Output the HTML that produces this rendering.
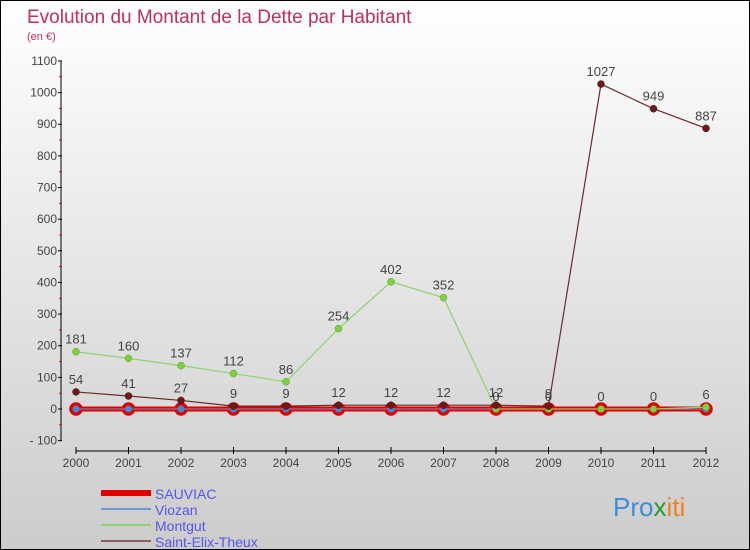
<!DOCTYPE html>
<html><head><meta charset="utf-8"><style>
body{margin:0}
#c{width:750px;height:550px;position:relative;background:linear-gradient(#fff,#ccc);font-family:"Liberation Sans",sans-serif;overflow:hidden;border:1px solid #000;box-sizing:border-box}
</style></head><body>
<div id="c">
<svg id="s" width="750" height="550" xmlns="http://www.w3.org/2000/svg">
<text x="26" y="22" font-size="19" fill="#c0305a">Evolution du Montant de la Dette par Habitant</text>
<text x="26" y="39" font-size="11" fill="#c0305a">(en €)</text>
<text x="612" y="515" font-size="26" fill="#3a8fd8">Pro<tspan fill="#2a9a2a">x</tspan><tspan fill="#f08020">iti</tspan></text>
</svg>
</div>
<script>
const years=[2000,2001,2002,2003,2004,2005,2006,2007,2008,2009,2010,2011,2012];
const yTicks=[-100,0,100,200,300,400,500,600,700,800,900,1000,1100];
const sauviac=[0,0,0,0,0,0,0,0,0,0,0,0,0];
const viozan=[0,0,0,0,0,0,0,0,0,0,0,0,0];
const montgut=[181,160,137,112,86,254,402,352,0,0,0,0,6];
const saintElix=[54,41,27,9,9,12,12,12,12,9,1027,949,887];
const seriesNames=["SAUVIAC","Viozan","Montgut","Saint-Elix-Theux"];
const NS="http://www.w3.org/2000/svg";
const s=document.getElementById('s');
const X=i=>75+i*52.5;
const Y=v=>408-v*0.3164;
function el(t,a,p){const e=document.createElementNS(NS,t);for(const k in a)e.setAttribute(k,a[k]);(p||s).appendChild(e);return e;}
let ax=el('line',{x1:60,y1:Y(1100),x2:60,y2:Y(-100),stroke:'#000'});


let xa=el('line',{x1:X(0),y1:450,x2:X(12),y2:450,stroke:'#000'});


yTicks.forEach(v=>{
 el('line',{x1:57,y1:Y(v),x2:61,y2:Y(v),stroke:'#000'});
 if(v<1100) el('line',{x1:58,y1:Y(v+50),x2:61,y2:Y(v+50),stroke:'#f00'});
 const t=el('text',{x:56,y:Y(v)+4,'font-size':12,fill:'#444','text-anchor':'end'});
 t.textContent=v==-100?'- 100':v;
 
 
});
years.forEach((y,i)=>{
 el('line',{x1:X(i),y1:446,x2:X(i),y2:453,stroke:'#000'});
 const t=el('text',{x:X(i),y:466,'font-size':12,fill:'#444','text-anchor':'middle'});
 t.textContent=y;
 
 
});
function series(data,color,w,r,fill,stroke,sw,name,labels){
 const g=el('g',{});
 
 
 el('polyline',{points:data.map((v,i)=>X(i)+','+Y(v)).join(' '),fill:'none',stroke:color,'stroke-width':w},g);
 data.forEach((v,i)=>{
  const c=el('circle',{cx:X(i),cy:Y(v),r:r,fill:fill,stroke:stroke,'stroke-width':sw},g);
  
  
  if(labels){const t=el('text',{x:X(i),y:Y(v)-8,'font-size':13,fill:'#444','text-anchor':'middle'},g);t.textContent=v;}
 });
}
series(sauviac,'#e00000',5,5.5,'#e00000','#e00000',2.5,'series-sauviac',false);
series(viozan,'#6a9ccc',1,3.5,'#3a8fd8','#3a8fd8',0,'series-viozan',false);
series(montgut,'#90d070',1.2,3.5,'#7ed040','#5a9a30',0.5,'series-montgut',true);
series(saintElix,'#6a2a2a',1.2,3.5,'#6a1a1a','#4a1010',0.5,'series-saint-elix',true);
const lc=[['#e00000',6],['#6a9ccc',2],['#90d070',2],['#8a6060',2]];
seriesNames.forEach((n,i)=>{
 const y=492+i*16;
 const l=el('line',{x1:100,y1:y,x2:150,y2:y,stroke:lc[i][0],'stroke-width':lc[i][1]});
 
 
 const t=el('text',{x:154,y:y+6,'font-size':14,fill:'#5555ee'});
 t.textContent=n;
 
 
});
</script>
</body></html>
